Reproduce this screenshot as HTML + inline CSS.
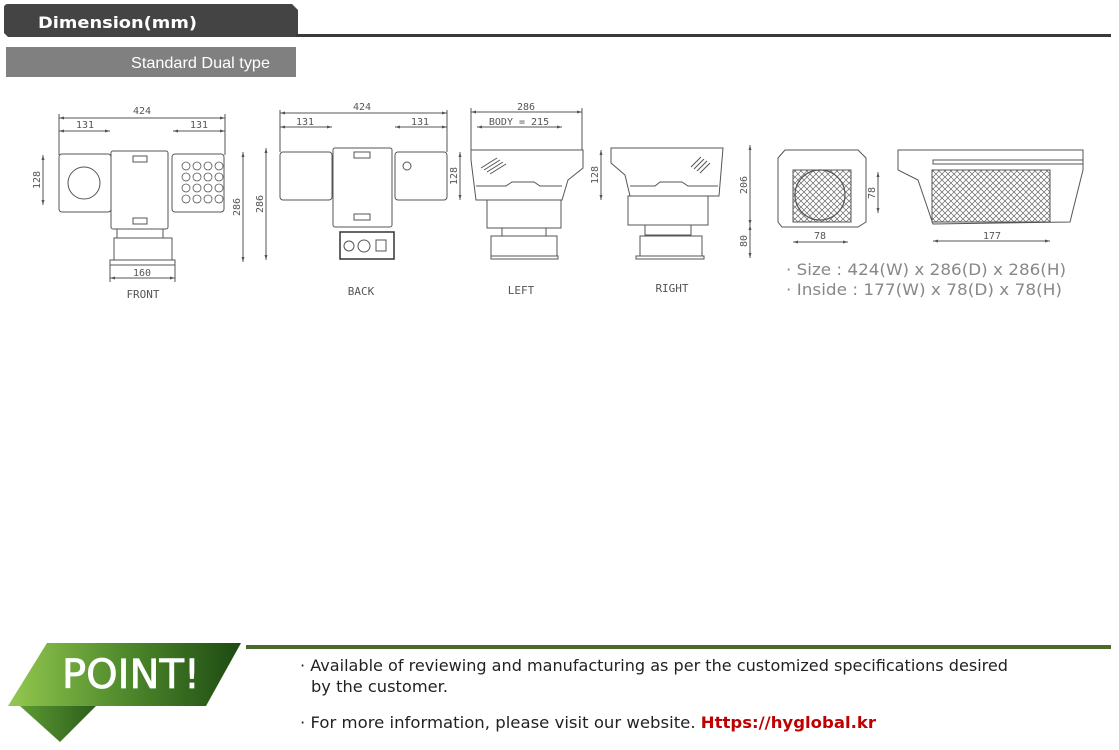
<!DOCTYPE html>
<html><head><meta charset="utf-8"><style>
html,body{margin:0;padding:0;background:#fff;}
svg{display:block;}
</style></head><body>
<svg width="1119" height="750" viewBox="0 0 1119 750" xmlns="http://www.w3.org/2000/svg">
<defs>
<linearGradient id="g1" x1="0" x2="1" y1="0" y2="0"><stop offset="0" stop-color="#94c850"/><stop offset="0.5" stop-color="#4f8a2c"/><stop offset="1" stop-color="#1d4a12"/></linearGradient>
<linearGradient id="g2" x1="0" x2="1"><stop offset="0" stop-color="#5d9a34"/><stop offset="1" stop-color="#2c5e1a"/></linearGradient>
<pattern id="hx" width="6" height="6" patternUnits="userSpaceOnUse"><path d="M0 0L6 6M6 0L0 6" stroke="#666" stroke-width="0.7"/></pattern>
<marker id="a" markerWidth="6" markerHeight="6" refX="5" refY="3" orient="auto-start-reverse"><path d="M0 1.5L5 3L0 4.5z" fill="#555"/></marker>
</defs>
<!-- header -->
<path d="M4 8 Q4 4 8 4 L292 4 L298 10 L298 37 L8 37 L4 33 Z" fill="#444"/>
<rect x="296" y="34" width="815" height="3" fill="#3a3a3a"/>
<text x="38" y="28" textLength="159" lengthAdjust="spacingAndGlyphs" font-family="'DejaVu Sans',sans-serif" font-weight="bold" font-size="16" fill="#fff">Dimension(mm)</text>
<rect x="6" y="47" width="290" height="30" fill="#808080"/>
<text x="131" y="68" textLength="139" lengthAdjust="spacingAndGlyphs" font-family="'Liberation Sans',sans-serif" font-size="16" fill="#fff">Standard Dual type</text>

<g fill="none" stroke="#555" stroke-width="1" font-family="'DejaVu Sans Mono','Liberation Mono',monospace" font-size="10">
<!-- FRONT -->
<rect x="59" y="154" width="52" height="58" rx="3"/>
<circle cx="84" cy="183" r="16"/>
<rect x="111" y="151" width="57" height="78" rx="2"/>
<rect x="172" y="154" width="52" height="58" rx="3"/>
<g stroke-width="0.8">
<circle cx="186" cy="166" r="4"/><circle cx="197" cy="166" r="4"/><circle cx="208" cy="166" r="4"/><circle cx="219" cy="166" r="4"/>
<circle cx="186" cy="177" r="4"/><circle cx="197" cy="177" r="4"/><circle cx="208" cy="177" r="4"/><circle cx="219" cy="177" r="4"/>
<circle cx="186" cy="188" r="4"/><circle cx="197" cy="188" r="4"/><circle cx="208" cy="188" r="4"/><circle cx="219" cy="188" r="4"/>
<circle cx="186" cy="199" r="4"/><circle cx="197" cy="199" r="4"/><circle cx="208" cy="199" r="4"/><circle cx="219" cy="199" r="4"/>
</g>
<rect x="133" y="156" width="14" height="6"/><rect x="133" y="218" width="14" height="6"/>
<rect x="117" y="229" width="46" height="9"/>
<rect x="114" y="238" width="58" height="22"/>
<rect x="110" y="260" width="65" height="5"/>
<line x1="59" y1="118" x2="225" y2="118" marker-start="url(#a)" marker-end="url(#a)"/>
<line x1="59" y1="131" x2="110" y2="131" marker-start="url(#a)" marker-end="url(#a)"/>
<line x1="173" y1="131" x2="225" y2="131" marker-start="url(#a)" marker-end="url(#a)"/>
<line x1="59" y1="114" x2="59" y2="155"/><line x1="225" y1="114" x2="225" y2="155"/>
<line x1="243" y1="152" x2="243" y2="262" marker-start="url(#a)" marker-end="url(#a)"/>
<line x1="43" y1="155" x2="43" y2="205" marker-start="url(#a)" marker-end="url(#a)"/>
<line x1="110" y1="278" x2="175" y2="278" marker-start="url(#a)" marker-end="url(#a)"/>
<line x1="110" y1="265" x2="110" y2="282"/><line x1="175" y1="265" x2="175" y2="282"/>
<!-- BACK -->
<rect x="280" y="152" width="52" height="48" rx="3"/>
<rect x="333" y="148" width="59" height="79" rx="2"/>
<rect x="395" y="152" width="52" height="48" rx="3"/>
<circle cx="407" cy="166" r="4"/>
<rect x="354" y="152" width="16" height="6"/><rect x="354" y="214" width="16" height="6"/>
<rect x="340" y="232" width="54" height="27" stroke="#333" stroke-width="1.5"/>
<circle cx="349" cy="246" r="5"/><circle cx="364" cy="246" r="6"/><rect x="376" y="240" width="10" height="11"/>
<line x1="280" y1="113" x2="447" y2="113" marker-start="url(#a)" marker-end="url(#a)"/>
<line x1="280" y1="127" x2="332" y2="127" marker-start="url(#a)" marker-end="url(#a)"/>
<line x1="395" y1="127" x2="447" y2="127" marker-start="url(#a)" marker-end="url(#a)"/>
<line x1="280" y1="110" x2="280" y2="152"/><line x1="447" y1="110" x2="447" y2="152"/>
<line x1="266" y1="148" x2="266" y2="260" marker-start="url(#a)" marker-end="url(#a)"/>
<line x1="460" y1="152" x2="460" y2="200" marker-start="url(#a)" marker-end="url(#a)"/>
<!-- LEFT -->
<path d="M471 150 L583 150 L583 168 L568 180 L562 200 L476 200 L471 160 Z"/>
<path d="M476 186 L506 186 L512 182 L534 182 L540 186 L562 186"/>
<path d="M481 168 L497 158 M484 170 L500 160 M487 172 L503 162 M490 174 L506 164"/>
<rect x="487" y="200" width="74" height="28"/>
<rect x="502" y="228" width="44" height="8"/>
<rect x="491" y="236" width="66" height="20"/><rect x="491" y="256" width="67" height="3"/>
<line x1="471" y1="112" x2="582" y2="112" marker-start="url(#a)" marker-end="url(#a)"/>
<line x1="477" y1="127" x2="562" y2="127" marker-start="url(#a)" marker-end="url(#a)"/>
<line x1="471" y1="108" x2="471" y2="150"/><line x1="582" y1="108" x2="582" y2="150"/>
<line x1="601" y1="150" x2="601" y2="200" marker-start="url(#a)" marker-end="url(#a)"/>
<!-- RIGHT -->
<path d="M611 148 L723 148 L719 196 L630 196 L625 175 L611 163 Z"/>
<path d="M630 186 L655 186 L660 182 L682 182 L688 186 L718 186"/>
<path d="M691 167 L701 157 M694 169 L704 159 M697 171 L707 161 M700 173 L710 163"/>
<rect x="628" y="196" width="80" height="29"/>
<rect x="645" y="225" width="46" height="10"/>
<rect x="640" y="236" width="62" height="20"/><rect x="636" y="256" width="68" height="3"/>
<line x1="750" y1="145" x2="750" y2="225" marker-start="url(#a)" marker-end="url(#a)"/>
<line x1="750" y1="225" x2="750" y2="258" marker-start="url(#a)" marker-end="url(#a)"/>
<!-- inside views -->
<path d="M785 150 L858 150 L866 158 L866 222 L858 227 L782 227 L778 222 L778 158 Z"/>
<rect x="793" y="170" width="58" height="52" fill="url(#hx)"/>
<circle cx="820" cy="195" r="25" stroke-width="1.2"/>
<line x1="878" y1="172" x2="878" y2="213" marker-start="url(#a)" marker-end="url(#a)"/>
<line x1="793" y1="242" x2="848" y2="242" marker-start="url(#a)" marker-end="url(#a)"/>
<path d="M898 150 L1083 150 L1083 170 L1070 222 L933 224 L918 180 L898 170 Z"/>
<rect x="932" y="170" width="118" height="52" fill="url(#hx)"/>
<rect x="933" y="160" width="150" height="4"/>
<line x1="933" y1="241" x2="1050" y2="241" marker-start="url(#a)" marker-end="url(#a)"/>
</g>
<g font-family="'DejaVu Sans Mono','Liberation Mono',monospace" font-size="10" fill="#555" text-anchor="middle">
<text x="142" y="114">424</text><text x="85" y="128">131</text><text x="199" y="128">131</text>
<text x="142" y="276">160</text><text x="143" y="298" font-size="11">FRONT</text>
<text transform="translate(40,180) rotate(-90)">128</text>
<text transform="translate(240,207) rotate(-90)">286</text>
<text x="362" y="110">424</text><text x="305" y="125">131</text><text x="420" y="125">131</text>
<text transform="translate(263,204) rotate(-90)">286</text>
<text transform="translate(457,176) rotate(-90)">128</text>
<text x="361" y="295" font-size="11">BACK</text>
<text x="526" y="110">286</text><text x="519" y="125">BODY = 215</text>
<text transform="translate(598,175) rotate(-90)">128</text>
<text x="521" y="294" font-size="11">LEFT</text>
<text transform="translate(747,185) rotate(-90)">206</text>
<text transform="translate(747,241) rotate(-90)">80</text>
<text x="672" y="292" font-size="11">RIGHT</text>
<text transform="translate(875,193) rotate(-90)">78</text>
<text x="820" y="239">78</text><text x="992" y="239">177</text>
</g>
<g font-family="'DejaVu Sans',sans-serif" font-size="16" fill="#888" lengthAdjust="spacingAndGlyphs">
<text x="786" y="275" textLength="280" lengthAdjust="spacingAndGlyphs">· Size : 424(W) x 286(D) x 286(H)</text>
<text x="786" y="295" textLength="276" lengthAdjust="spacingAndGlyphs">· Inside : 177(W) x 78(D) x 78(H)</text>
</g>
<!-- bottom -->
<rect x="246" y="645" width="865" height="4" fill="#4a6a2a"/>
<path d="M20 706 L96 706 L60 742 Z" fill="url(#g2)"/>
<path d="M47 643 L241 643 L206 706 L8 706 Z" fill="url(#g1)"/>
<text x="62" y="688" textLength="138" lengthAdjust="spacingAndGlyphs" font-family="'DejaVu Sans',sans-serif" font-size="40" fill="#fff" stroke="#fff" stroke-width="0.8">POINT!</text>
<g font-family="'DejaVu Sans',sans-serif" font-size="16" fill="#222">
<text x="300" y="671" textLength="708" lengthAdjust="spacingAndGlyphs">· Available of reviewing and manufacturing as per the customized specifications desired</text>
<text x="311" y="692" textLength="137" lengthAdjust="spacingAndGlyphs">by the customer.</text>
<text x="300" y="728" textLength="576" lengthAdjust="spacingAndGlyphs">· For more information, please visit our website. <tspan fill="#c00000" font-weight="bold">Https://hyglobal.kr</tspan></text>
</g>
</svg>
</body></html>
